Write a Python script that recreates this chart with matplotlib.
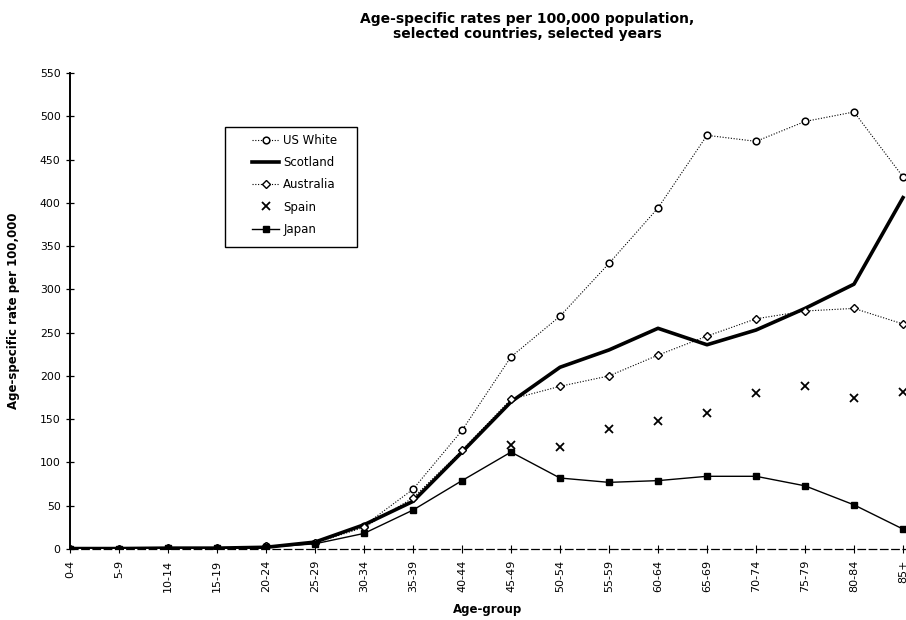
import numpy as np
import matplotlib
matplotlib.use("Agg")
import matplotlib.pyplot as plt
from matplotlib.patches import Rectangle

plt.rcParams['font.family'] = ['DejaVu Sans']

age_groups = ["0-4", "5-9", "10-14", "15-19", "20-24", "25-29", "30-34", "35-39",
              "40-44", "45-49", "50-54", "55-59", "60-64", "65-69", "70-74",
              "75-79", "80-84", "85+"]

us_white = [0.5, 0.5, 1, 1, 3, 7, 27, 69, 137, 222, 269, 330, 394, 478, 471, 494, 505, 430]
scotland = [0.5, 0.5, 1, 1, 2, 8, 28, 55, 112, 170, 210, 230, 255, 236, 253, 278, 306, 406]
australia = [0.5, 0.5, 1, 1, 3, 7, 25, 59, 114, 173, 188, 200, 224, 246, 266, 275, 278, 260]
spain = [np.nan] * 9 + [120, 118, 139, 148, 157, 180, 188, 174, 181]
japan = [0.5, 0.5, 1, 1, 2, 6, 18, 45, 79, 112, 82, 77, 79, 84, 84, 73, 51, 23]

W, H = 906, 620
fig = plt.figure(figsize=(W / 100, H / 100), dpi=100)
left, right, bottom, top = 70, 906, 549, 73
ax = fig.add_axes([left / W, 1 - bottom / H, (right - left) / W, (bottom - top) / H])

x = np.arange(len(age_groups))

ax.plot(x, us_white, linestyle=(0, (1, 1.5)), color='black', linewidth=0.8,
        marker='o', markersize=4.8, markerfacecolor='white', markeredgecolor='black',
        markeredgewidth=1.1, label='US White')
ax.plot(x, scotland, linestyle='-', color='black', linewidth=2.6, label='Scotland')
ax.plot(x, australia, linestyle=(0, (1, 1.5)), color='black', linewidth=0.8,
        marker='D', markersize=3.8, markerfacecolor='white', markeredgecolor='black',
        markeredgewidth=1.0, label='Australia')
ax.plot(x, spain, linestyle='none', marker='x', markersize=5.5, color='black',
        markeredgewidth=1.3, label='Spain')
ax.plot(x, japan, linestyle='-', color='black', linewidth=1.0,
        marker='s', markersize=5, markerfacecolor='black', markeredgecolor='black',
        label='Japan')

ax.set_xlim(0, (right - left) / 49.0)
ax.set_ylim(0, 550)
ax.set_yticks(np.arange(0, 551, 50))
ax.set_xticks(x)
ax.set_xticklabels(age_groups, rotation=90, fontsize=8)
ax.tick_params(axis='y', direction='inout', length=5.5, width=0.9, labelsize=7.8, pad=4)
ax.tick_params(axis='x', direction='inout', length=5.5, width=0.8, pad=5)

for s in ['top', 'right']:
    ax.spines[s].set_visible(False)
ax.spines['left'].set_linewidth(1.4)
ax.spines['bottom'].set_linewidth(0.9)
ax.spines['bottom'].set_linestyle((0, (6, 3)))

ax.set_xlabel('Age-group', fontsize=8.5, fontweight='bold')
ax.xaxis.set_label_coords(0.5, -(610 - bottom) / (bottom - top), transform=ax.transAxes)
ax.xaxis.label.set_va('center')
ax.set_ylabel('Age-specific rate per 100,000', fontsize=8.5, fontweight='bold')
ax.yaxis.set_label_coords((14 - left) / (right - left), 0.5, transform=ax.transAxes)
ax.yaxis.label.set_va('center')

fig.text(527 / W, 1 - 19 / H, 'Age-specific rates per 100,000 population,',
         ha='center', va='center', fontsize=10, fontweight='bold')
fig.text(527 / W, 1 - 34 / H, 'selected countries, selected years',
         ha='center', va='center', fontsize=10, fontweight='bold')

# legend frame
fig.add_artist(Rectangle((225 / W, 1 - 247 / H), (357 - 225) / W, (247 - 127) / H,
                         transform=fig.transFigure, fill=False, edgecolor='black',
                         linewidth=1.0))
leg = fig.legend(loc='upper left', bbox_to_anchor=(252 / W, 1 - 134 / H),
                 frameon=False, fontsize=8.5, handlelength=2.3, handletextpad=0.35,
                 borderpad=0, labelspacing=0.78, borderaxespad=0)

fig.savefig('out.png', dpi=100, facecolor='white')
